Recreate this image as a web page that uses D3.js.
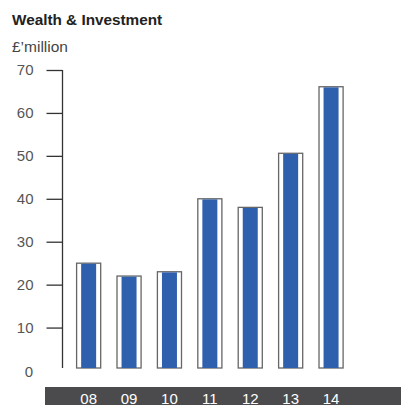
<!DOCTYPE html>
<html>
<head>
<meta charset="utf-8">
<script src="https://cdn.jsdelivr.net/npm/d3@7"></script>
<style>
  html, body { margin: 0; padding: 0; background: #fff; }
  svg { display: block; font-family: "Liberation Sans", Arial, Helvetica, sans-serif; }
</style>
</head>
<body>
<svg id="chart" width="401" height="405"></svg>
<script>
// Wealth & Investment, £ million by year
const years = ["08", "09", "10", "11", "12", "13", "14"];
const values = [25, 22, 23, 40, 38, 50.6, 66.1];
const yTicks = [0, 10, 20, 30, 40, 50, 60, 70];

const svg = d3.select("#chart");
const W = 401, H = 405;

const x = d3.scaleBand().domain(years).range([55.8, 363.9]).paddingInner(0.374).paddingOuter(0.5);
const y = d3.scaleLinear().domain([0, 70]).range([370.5, 70]);
const baseY = y(0) - 2.5;

// Titles
svg.append("text").attr("x", 12).attr("y", 25)
  .attr("font-size", 15.3).attr("font-weight", "bold").attr("fill", "#222")
  .text("Wealth & Investment");
svg.append("text").attr("x", 12).attr("y", 52)
  .attr("font-size", 15.5).attr("fill", "#444")
  .text("£’million");

// Y axis
const yAxis = d3.axisLeft(y).tickValues(yTicks.filter(d => d > 0)).tickSize(16).tickPadding(13).tickFormat(d3.format("d"));
const gy = svg.append("g").attr("transform", "translate(62.5,0)").call(yAxis);
gy.select(".domain").remove();
gy.selectAll(".tick line").attr("stroke", "#333").attr("stroke-width", 1.3);
gy.selectAll(".tick text").attr("font-size", 15).attr("fill", "#555").attr("font-family", "Liberation Sans, Arial, sans-serif");
svg.append("line").attr("x1", 62.5).attr("x2", 62.5).attr("y1", y(70)).attr("y2", baseY)
  .attr("stroke", "#333").attr("stroke-width", 1.3);
svg.append("text").attr("x", 33).attr("y", y(0) + 1).attr("dy", "0.35em")
  .attr("text-anchor", "end").attr("font-size", 15).attr("fill", "#555").text("0");

// Bars: white frame with a blue core
const bars = svg.append("g").selectAll("g").data(values).join("g");
bars.append("rect")
  .attr("x", (d, i) => x(years[i]) + 0.6)
  .attr("y", d => y(d))
  .attr("width", x.bandwidth() - 1.2)
  .attr("height", d => baseY - y(d))
  .attr("fill", "#fff").attr("stroke", "#666").attr("stroke-width", 1.3);
bars.append("rect")
  .attr("x", (d, i) => x(years[i]) + (x.bandwidth() - 15) / 2)
  .attr("y", d => y(d) + 0.6)
  .attr("width", 15)
  .attr("height", d => baseY - y(d) - 0.6)
  .attr("fill", "#2f60ad");

// Category band
svg.append("rect").attr("x", 45).attr("y", 387).attr("width", W - 45).attr("height", H - 387).attr("fill", "#4b4b4d");
svg.append("g").selectAll("text").data(years).join("text")
  .attr("x", d => x(d) + x.bandwidth() / 2)
  .attr("y", 403.5)
  .attr("text-anchor", "middle").attr("font-size", 15).attr("fill", "#fff")
  .text(d => d);
</script>
</body>
</html>
